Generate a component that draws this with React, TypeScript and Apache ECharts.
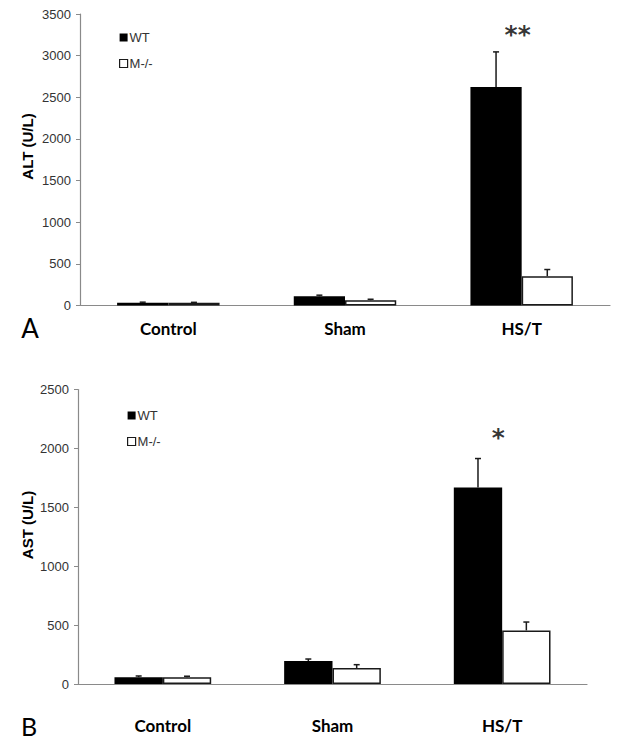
import React, { useEffect, useRef } from "react";
import * as echarts from "echarts";

const categories = ["Control", "Sham", "HS/T"];
const seriesNames = ["WT", "M-/-"];

// Panel A: ALT (U/L)
const altWT = [32, 110, 2625];
const altWTErrTop = [40, 124, 3045];
const altKO = [32, 63, 352];
const altKOErrTop = [38, 75, 432];
const altSig = ["", "", "**"];
const altSigAt = [0, 0, 3250];
const altTicks = { min: 0, max: 3500, interval: 500 };

// Panel B: AST (U/L)
const astWT = [58, 195, 1668];
const astWTErrTop = [68, 212, 1914];
const astKO = [57, 136, 455];
const astKOErrTop = [66, 164, 526];
const astSig = ["", "", "*"];
const astSigAt = [0, 0, 2095];
const astTicks = { min: 0, max: 2500, interval: 500 };

const BW_A = 0.29;
const BW_B = 0.285;

function errSeries(name: string, grid: number, vals: number[], tops: number[], side: number, bw: number) {
  return {
    type: "custom",
    name: name + "-err",
    xAxisIndex: grid,
    yAxisIndex: grid,
    z: 5,
    silent: true,
    data: vals.map((v, i) => [i, v, tops[i]]),
    renderItem: (params: any, api: any) => {
      const x = api.value(0);
      const v = api.value(1);
      const e = api.value(2);
      const band = api.size([1, 0])[0];
      const off = (side * band * bw) / 2;
      const p1 = api.coord([x, v]);
      const p2 = api.coord([x, e]);
      const cx = p1[0] + off;
      const st = { stroke: "#1a1a1a", lineWidth: 1.5 };
      return {
        type: "group",
        children: [
          { type: "line", shape: { x1: cx, y1: p1[1], x2: cx, y2: p2[1] }, style: st },
          { type: "line", shape: { x1: cx - 3, y1: p2[1], x2: cx + 3, y2: p2[1] }, style: st },
        ],
      };
    },
  };
}

function barSeries(name: string, grid: number, vals: number[], bw: number, white: boolean) {
  return {
    type: "bar",
    name,
    xAxisIndex: grid,
    yAxisIndex: grid,
    barWidth: bw * 100 + "%",
    barGap: "0%",
    data: vals,
    itemStyle: white
      ? { color: "#ffffff", borderColor: "#1a1a1a", borderWidth: 1.5 }
      : { color: "#000000", borderColor: "#000000", borderWidth: 0 },
  };
}

function sigSeries(grid: number, labels: string[], at: number[], size: number) {
  return {
    type: "scatter",
    name: "sig" + grid,
    xAxisIndex: grid,
    yAxisIndex: grid,
    symbolSize: 0,
    silent: true,
    data: labels.map((l, i) => (l ? [i, at[i]] : null)).filter((d) => d),
    label: {
      show: true,
      position: "inside",
      formatter: (p: any) => labels[p.data[0]],
      fontFamily: "DejaVu Sans",
      fontWeight: "bold",
      fontSize: size,
      color: "#000",
      textBorderWidth: 0,
      offset: [-4, 0],
    },
  };
}

function yAxis(grid: number, t: { min: number; max: number; interval: number }) {
  return {
    type: "value",
    gridIndex: grid,
    min: t.min,
    max: t.max,
    interval: t.interval,
    splitLine: { show: false },
    axisLine: { show: true, lineStyle: { color: "#8a8a8a", width: 1.2 } },
    axisTick: { show: true, length: 4, lineStyle: { color: "#8a8a8a" } },
    axisLabel: {
      fontFamily: "Liberation Sans",
      fontSize: 13,
      color: "#333",
      margin: 9,
      formatter: (v: number) => String(v),
    },
  };
}

function xAxis(grid: number, margin: number) {
  return {
    type: "category",
    gridIndex: grid,
    data: categories,
    axisLine: { show: true, lineStyle: { color: "#8a8a8a", width: 1.2 } },
    axisTick: { show: false },
    axisLabel: { fontFamily: "Lato", fontWeight: "bold", fontSize: 17, color: "#000", margin },
  };
}

function legend(left: number, top: number) {
  return {
    orient: "vertical",
    left,
    top,
    itemWidth: 8,
    itemHeight: 8,
    itemGap: 13,
    selectedMode: false,
    textStyle: { fontFamily: "Liberation Sans", fontSize: 13, color: "#333", padding: [0, 0, 0, -3] },
    data: [
      { name: seriesNames[0], icon: "rect", itemStyle: { color: "#000", borderWidth: 0 } },
      { name: seriesNames[1], icon: "rect", itemStyle: { color: "#fff", borderColor: "#1a1a1a", borderWidth: 1.2 } },
    ],
  };
}

export default function App() {
  const ref = useRef<HTMLDivElement>(null);
  useEffect(() => {
    if (!ref.current) return;
    const chart = echarts.init(ref.current, null, { renderer: "svg" });
    chart.setOption({
      animation: false,
      backgroundColor: "#ffffff",
      grid: [
        { left: 80, top: 14, width: 530, height: 291.5 },
        { left: 78, top: 389.5, width: 509, height: 294.5 },
      ],
      xAxis: [xAxis(0, 14), xAxis(1, 33)],
      yAxis: [yAxis(0, altTicks), yAxis(1, astTicks)],
      legend: [legend(114, 26), legend(122, 404)],
      series: [
        barSeries(seriesNames[0], 0, altWT, BW_A, false),
        barSeries(seriesNames[1], 0, altKO, BW_A, true),
        errSeries("A-WT", 0, altWT, altWTErrTop, -1, BW_A),
        errSeries("A-KO", 0, altKO, altKOErrTop, 1, BW_A),
        sigSeries(0, altSig, altSigAt, 25),
        barSeries(seriesNames[0], 1, astWT, BW_B, false),
        barSeries(seriesNames[1], 1, astKO, BW_B, true),
        errSeries("B-WT", 1, astWT, astWTErrTop, -1, BW_B),
        errSeries("B-KO", 1, astKO, astKOErrTop, 1, BW_B),
        sigSeries(1, astSig, astSigAt, 25),
      ],
      graphic: [
        {
          type: "text",
          x: 27,
          y: 146.5,
          rotation: Math.PI / 2,
          style: { text: "ALT (U/L)", fontFamily: "Liberation Sans", fontWeight: "bold", fontSize: 15, fill: "#000", align: "center", verticalAlign: "middle" },
        },
        {
          type: "text",
          x: 27,
          y: 525,
          rotation: Math.PI / 2,
          style: { text: "AST (U/L)", fontFamily: "Liberation Sans", fontWeight: "bold", fontSize: 15, fill: "#000", align: "center", verticalAlign: "middle" },
        },
        {
          type: "text",
          x: 30,
          y: 328,
          style: { text: "A", fontFamily: "Lato", fontSize: 26, fill: "#000", align: "center", verticalAlign: "middle" },
        },
        {
          type: "text",
          x: 29,
          y: 726,
          style: { text: "B", fontFamily: "Lato", fontSize: 25, fill: "#000", align: "center", verticalAlign: "middle" },
        },
      ],
    });
    return () => chart.dispose();
  }, []);
  return (
    <div style={{ position: "absolute", left: 0, top: 0, width: 630, height: 744, background: "#fff" }}>
      <div ref={ref} style={{ width: 630, height: 744 }} />
    </div>
  );
}
